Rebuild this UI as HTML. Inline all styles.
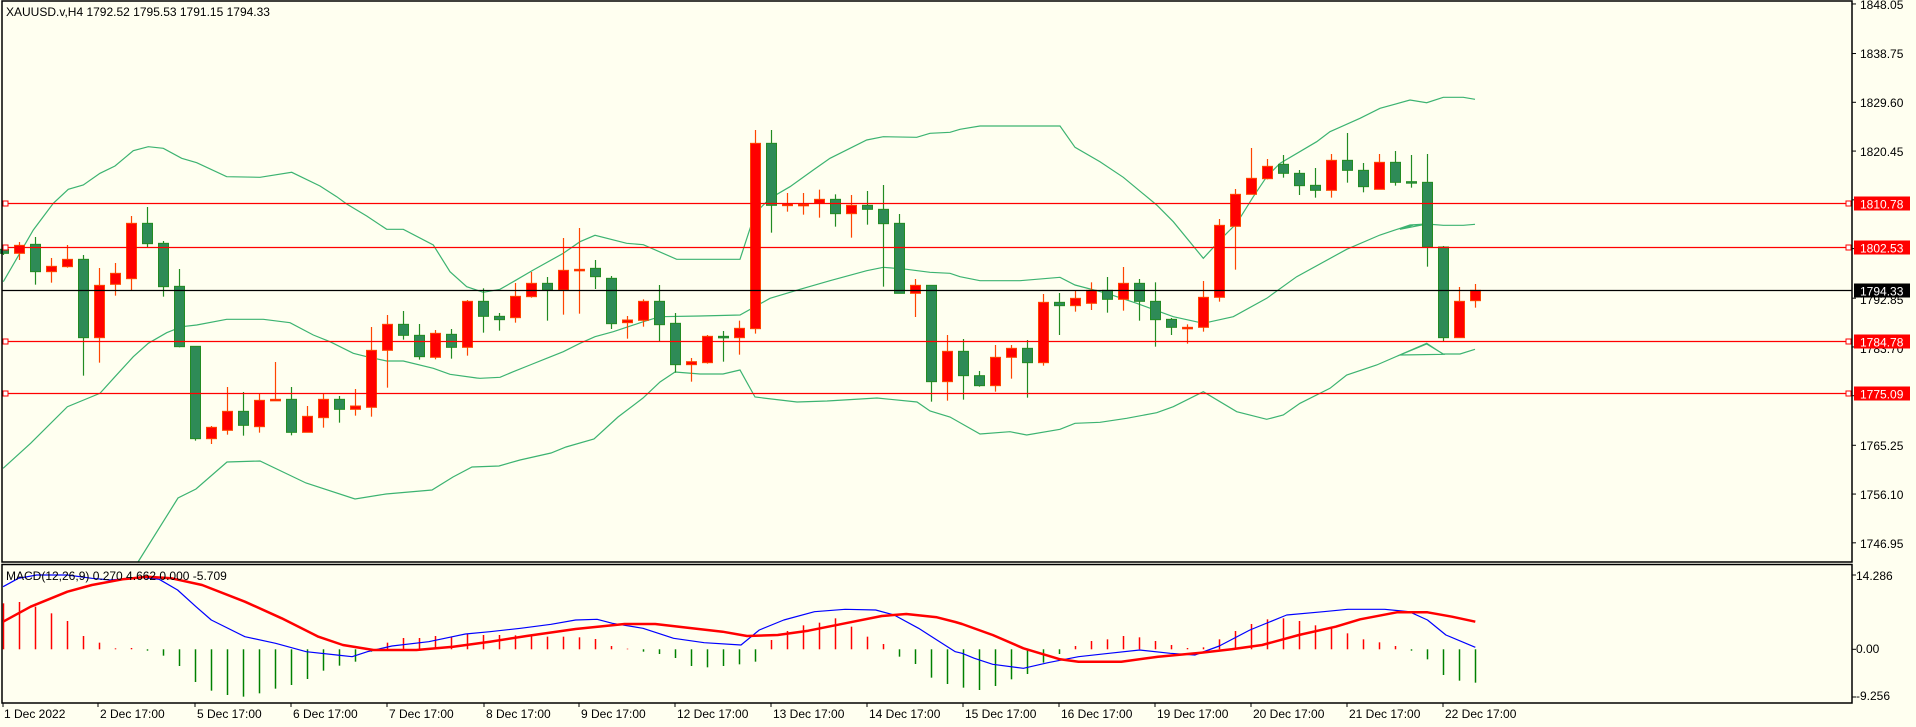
<!DOCTYPE html>
<html><head><meta charset="utf-8"><style>
html,body{margin:0;padding:0;background:#fffff0;}
svg{display:block;font-family:"Liberation Sans","DejaVu Sans",sans-serif;}
</style></head><body>
<svg id="c" width="1916" height="727" viewBox="0 0 1916 727" xmlns="http://www.w3.org/2000/svg">
<rect x="0" y="0" width="1916" height="727" fill="#fffff0"/>
<g id="g"></g>
<rect x="2" y="1" width="1850" height="561" fill="none" stroke="#000" stroke-width="1.5"/>
<rect x="2" y="564.5" width="1850" height="138.5" fill="none" stroke="#000" stroke-width="1.5"/>
<g font-size="12" fill="#000">
<text x="6" y="16">XAUUSD.v,H4  1792.52 1795.53 1791.15 1794.33</text>
<text x="6" y="580">MACD(12,26,9) 0.270 4.662 0.000 -5.709</text>
</g>
<g font-size="12" fill="#000" id="ax">
<text x="1860" y="9">1848.05</text>
<text x="1860" y="58">1838.75</text>
<text x="1860" y="107">1829.60</text>
<text x="1860" y="156">1820.45</text>
<text x="1860" y="205">1811.30</text>
<text x="1860" y="304">1792.85</text>
<text x="1860" y="353">1783.70</text>
<text x="1860" y="450">1765.25</text>
<text x="1860" y="499">1756.10</text>
<text x="1860" y="548">1746.95</text>
<text x="1856" y="580">14.286</text>
<text x="1856" y="653">0.00</text>
<text x="1856" y="700">-9.256</text>
</g>
<g id="lbl" font-size="12"></g>
<g font-size="12" fill="#000">
<text x="4" y="718">1 Dec 2022</text>
<text x="100" y="718">2 Dec 17:00</text>
<text x="197" y="718">5 Dec 17:00</text>
<text x="293" y="718">6 Dec 17:00</text>
<text x="389" y="718">7 Dec 17:00</text>
<text x="486" y="718">8 Dec 17:00</text>
<text x="581" y="718">9 Dec 17:00</text>
<text x="677" y="718">12 Dec 17:00</text>
<text x="773" y="718">13 Dec 17:00</text>
<text x="869" y="718">14 Dec 17:00</text>
<text x="965" y="718">15 Dec 17:00</text>
<text x="1061" y="718">16 Dec 17:00</text>
<text x="1157" y="718">19 Dec 17:00</text>
<text x="1253" y="718">20 Dec 17:00</text>
<text x="1349" y="718">21 Dec 17:00</text>
<text x="1445" y="718">22 Dec 17:00</text>
</g>
</svg>
<script>
var NS="http://www.w3.org/2000/svg",g=document.getElementById("g");
function el(t,a,p){var e=document.createElementNS(NS,t);for(var k in a)e.setAttribute(k,a[k]);(p||g).appendChild(e);return e;}
function Y(p){return 102.3+(1829.6-p)*5.33;}
// axis ticks
[1848.05,1838.75,1829.6,1820.45,1811.3,1802.15,1792.85,1783.7,1774.55,1765.25,1756.1,1746.95].forEach(function(p){var y=Y(p);el("line",{x1:1852,x2:1856,y1:y,y2:y,stroke:"#000"});});
[[575,1],[649.3,1],[697,1]].forEach(function(a){el("line",{x1:1852,x2:1856,y1:a[0],y2:a[0],stroke:"#000"});});
var dt=[3,98,195,291,387,484,579,675,771,867,963,1059,1155,1251,1347,1443];
dt.forEach(function(x){el("line",{x1:x,x2:x,y1:703,y2:707,stroke:"#000"});});
// bands
function band(segs){var pts=[];segs.forEach(function(s){var ox=s[0],f=s[1],oy=s[2],fy=s[3];s[4].forEach(function(q){pts.push((ox+q[0]/f).toFixed(1)+","+(oy+q[1]/fy).toFixed(1));});});
 el("polyline",{points:pts.join(" "),fill:"none",stroke:"#3cb371","stroke-width":1.2});}
band([[0,3,90,3,[[10,575],[100,420],[160,340],[205,298],[250,285],[300,250],[345,228],[400,182],[445,170],[490,175],[545,205],[590,218],[680,260],[780,262],[875,247],[960,288],[1010,320],[1040,342],[1100,378],[1160,418],[1210,418],[1300,465],[1350,545],[1400,590],[1450,607]]],
[480,3,90,3,[[60,598],[100,575],[160,540],[250,490],[300,455],[345,436],[440,460],[490,464],[590,508],[780,508],[825,370],[870,325],[930,290],[1000,240],[1050,205],[1160,150],[1210,140],[1310,142],[1350,130],[1410,127]]],
[960,3,90,3,[[0,118],[60,108],[300,108],[345,172],[420,215],[490,262],[590,345],[640,395],[730,505],[790,440],[830,400],[880,320],[920,260],[960,220],[1070,155],[1110,125],[1200,85],[1260,55],[1350,30],[1400,38],[1450,22]]],
[1400,3,90,3,[[130,22],[190,22],[225,28]]]]);
band([[0,1.633,400,3,[[5,205],[50,130],[110,20]]],
[0,3,90,3,[[300,910],[345,860],[400,800],[445,760],[500,728],[545,710],[590,705],[680,688],[790,688],[870,698],[940,735],[990,755],[1060,790],[1100,800],[1160,813],[1210,813],[1300,835],[1350,853],[1430,864]]],
[480,3,90,3,[[0,865],[60,862],[100,845],[150,825],[200,805],[250,785],[300,760],[345,740],[400,725],[490,695],[540,680],[660,678],[780,675],[870,625],[960,598],[1050,572],[1160,542],[1210,532],[1280,538],[1350,547],[1410,550]]],
[960,3,90,3,[[0,560],[60,572],[180,572],[300,562],[345,585],[440,610],[530,640],[640,680],[730,700],[820,680],[920,625],[1010,560],[1160,478],[1260,435],[1350,405],[1400,402]]],
[1400,3,90,3,[[0,418],[40,405],[80,402],[130,406],[190,406],[225,403]]]]);
band([[0,1,0,1,[[138,562],[178,498],[196,489],[227,462],[260,461],[306,483],[355,499],[386,494],[432,490],[453,477],[472,467],[499,466],[520,460],[551,453],[566,447],[594,439],[618,417],[643,398],[660,382],[675,372],[700,374],[723,374],[740,370],[755,397],[797,402],[827,401],[877,398],[917,402],[930,411],[950,417],[980,434]]],
[960,3,90,3,[[60,1032],[150,1025],[200,1035],[300,1018],[345,1000],[420,997],[500,985],[590,968],[640,950],[730,905],[830,965],[920,988],[970,975],[1020,940],[1110,895],[1160,855],[1250,825],[1400,760],[1450,793]]],
[1400,3,90,3,[[0,795],[80,762],[130,792],[180,792],[225,778]]]]);
// levels
function lvl(p,col,lab,bg){var y=Math.round(Y(p))+0.5;el("line",{x1:2,x2:1852,y1:y,y2:y,stroke:col,"stroke-width":1.2});
 if(col!="#000"){el("rect",{x:3,y:y-2.5,width:5,height:5,fill:"#fff",stroke:col});el("rect",{x:1846,y:y-2.5,width:5,height:5,fill:"#fff",stroke:col});}
 var L=document.getElementById("lbl");el("rect",{x:1854,y:y-7,width:56,height:14,fill:bg},L);var t=el("text",{x:1860,y:y+5,fill:"#fff"},L);t.textContent=lab;}
// candles
var C=[[478,490,470,495,"g"],[466,490,456,510,"r"],[463,545,441,584,"g"],[529,545,504,578,"r"],[508,530,465,533,"r"],[508,743,495,857,"g"],[586,743,534,818,"r"],[550,583,519,617,"r"],[400,566,378,602,"r"],[400,461,351,471,"g"],
[460,590,453,620,"g"],[589,770,537,772,"g"],[769,1046,769,1052,"g"],[1012,1046,1008,1062,"r"],[964,1021,891,1034,"r"],[964,1006,906,1037,"g"],[931,1010,910,1028,"r"],[928,932,816,932,"r"],[928,1027,891,1036,"g"],[979,1027,948,1027,"r"],
[928,983,910,1013,"r"],[928,958,918,998,"g"],[948,958,897,977,"r"],[781,952,711,980,"r"],[703,781,675,893,"r"],[703,736,663,749,"g"],[736,800,702,809,"g"],[730,802,720,808,"r"],[733,772,717,806,"g"],[634,772,630,797,"r"],
[634,679,595,728,"g"],[679,689,669,722,"g"],[619,683,579,698,"r"],[580,620,546,623,"r"],[580,600,561,692,"g"],[541,600,444,674,"r"],[538,542,414,671,"r"],[535,560,510,597,"g"],[565,701,558,717,"g"],[690,698,678,746,"r"],
[634,691,628,710,"r"],[634,704,585,753,"g"],[700,824,669,848,"g"],[815,824,804,875,"r"],[739,818,735,821,"r"],[739,743,723,815,"g"],[715,743,692,794,"r"],[160,716,120,731,"r"],[160,346,120,428,"g"],[342,347,309,365,"r"],
[343,345,309,374,"r"],[328,340,299,383,"r"],[328,371,313,410,"g"],[346,371,315,443,"r"],[346,358,303,404,"g"],[358,401,285,590,"g"],[400,610,372,610,"g"],[586,610,567,681,"r"],[586,875,586,935,"g"],[784,875,735,932,"r"],
[784,857,747,929,"g"],[857,887,843,890,"g"],[802,887,765,905,"r"],[775,802,765,866,"r"],[775,818,750,923,"g"],[637,818,612,827,"r"],[637,647,609,735,"g"],[625,647,600,665,"r"],[601,640,577,660,"r"],[601,628,561,668,"g"],
[580,628,531,662,"r"],[580,634,567,692,"g"],[634,689,577,770,"g"],[688,712,684,735,"g"],[712,716,703,761,"r"],[622,712,573,725,"r"],[406,622,387,635,"r"],[313,409,297,539,"r"],[265,313,174,313,"r"],[229,266,207,268,"r"],
[223,250,195,263,"g"],[250,287,240,315,"g"],[286,301,234,323,"g"],[211,301,192,323,"r"],[211,241,129,278,"g"],[241,290,219,307,"g"],[217,298,192,298,"r"],[217,277,183,287,"g"],[275,278,195,293,"g"],[277,471,192,530,"g"],
[471,743,468,753,"g"],[634,743,591,743,"r"],[601,632,582,653,"r"]];
function cx(i){return 3.3+16*i;}
C.forEach(function(c,i){var x=Math.round(cx(i))+0.5,bt=90+c[0]/3,bb=90+c[1]/3,wt=90+c[2]/3,wb=90+c[3]/3;
 var fill=c[4]=="g"?"#2e8b57":"#ff0000",st=c[4]=="g"?"#228b22":"#ff4500";
 el("line",{x1:x,x2:x,y1:wt,y2:wb,stroke:st,"stroke-width":1.2});
 el("rect",{x:x-5,y:bt,width:10,height:Math.max(bb-bt,1.5),fill:fill,stroke:st,"stroke-width":1});});
lvl(1810.78,"#ff0000","1810.78","#ff0000");
lvl(1802.53,"#ff0000","1802.53","#ff0000");
lvl(1784.78,"#ff0000","1784.78","#ff0000");
lvl(1775.09,"#ff0000","1775.09","#ff0000");
lvl(1794.33,"#000","1794.33","#000");
// MACD histogram
var H=[130,126,140,160,183,228,248,265,264,272,287,318,366,392,405,410,400,386,375,357,332,317,305,275,248,234,234,228,232,222,225,225,226,228,230,230,232,237,258,266,275,282,294,318,322,318,313,305,240,213,196,188,175,200,230,252,290,312,353,372,
383,390,378,358,342,308,282,258,243,238,228,232,243,255,264,262,238,213,192,178,175,183,196,200,220,238,247,258,272,298,345,362,368];
var z0=649.3;
H.forEach(function(h,i){var y=560+h/3,x=Math.round(cx(i))+0.5;if(Math.abs(y-z0)<0.4)return;
 el("line",{x1:x,x2:x,y1:z0,y2:y,stroke:y<z0?"#ff0000":"#008000","stroke-width":1.5});});
function ml(segs,col,w){var pts=[];segs.forEach(function(s){s[1].forEach(function(q){pts.push((s[0]+q[0]/1.633).toFixed(1)+","+(560+q[1]/3).toFixed(1));});});
 el("polyline",{points:pts.join(" "),fill:"none",stroke:col,"stroke-width":w,"stroke-linejoin":"round"});}
ml([[0,[[5,80],[30,55],[60,45],[110,45],[150,55],[180,60],[230,52],[260,58],[290,90],[320,140],[345,180],[400,230],[450,250],[500,275],[550,285],[575,290],[600,275],[640,258],[700,245],[760,222],[800,215],[850,205],[900,193],[940,180],[975,178],[1000,190],[1050,205],[1100,235],[1150,248],[1210,255],[1240,210],[1280,180],[1330,155],[1380,148],[1430,150],[1460,165],[1500,205],[1530,240],[1560,275]]],
[956,[[10,280],[30,295],[60,313],[110,325],[150,308],[200,290],[250,280],[300,270],[350,280],[390,285],[430,258],[480,210],[540,165],[600,155],[640,148],[700,148],[740,155],[770,180],[800,225],[848,262]]]],"#0000ff",1.2);
ml([[0,[[5,185],[50,140],[110,95],[150,75],[200,58],[240,50],[280,55],[330,75],[400,125],[460,175],[520,230],[560,255],[610,270],[680,270],[740,260],[800,245],[860,228],[940,207],[1020,192],[1070,192],[1130,205],[1180,215],[1220,228],[1270,225],[1320,212],[1380,190],[1440,168],[1480,162],[1530,172],[1560,186]]],
[956,[[10,192],[60,225],[110,265],[170,298],[200,305],[270,305],[330,290],[400,278],[450,268],[500,255],[560,225],[620,200],[660,178],[720,157],[770,157],[810,170],[848,185]]]],"#ff0000",2.5);
</script>
</body></html>
